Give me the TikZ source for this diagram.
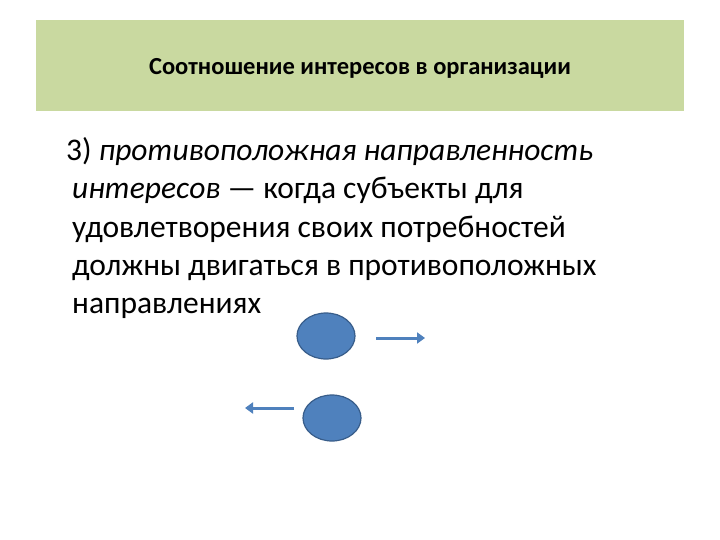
\documentclass[tikz,border=0pt]{standalone}
\usepackage{fontspec}
\setmainfont{Carlito}
\usetikzlibrary{arrows.meta,shapes.geometric}
\definecolor{hdr}{HTML}{C9D9A0}
\definecolor{ball}{HTML}{4F81BD}
\definecolor{balledge}{HTML}{385D8A}
\tikzset{
  ballnode/.style={ellipse,fill=ball,draw=balledge,line width=1.2pt,minimum width=58pt,minimum height=46pt,inner sep=0pt},
  arr/.style={draw=ball,line width=3pt,-{Triangle[length=8pt,width=11pt]}},
  bodyline/.style={anchor=base west,font=\fontsize{31.5}{36}\selectfont,inner sep=0pt}
}
\begin{document}
\begin{tikzpicture}[x=1pt,y=-1pt]
\useasboundingbox (0,0) rectangle (720,540);
\fill[white] (0,0) rectangle (720,540);
\node[fill=hdr,minimum width=648pt,minimum height=91pt,anchor=north west,inner sep=0pt] (hdr) at (36,20) {};
\node[font=\bfseries\fontsize{24.5}{28}\selectfont] (title) at (360,68) {Соотношение интересов в организации};
\node[bodyline] (l1) at (66,161) {3) \textit{противоположная направленность}};
\node[bodyline] (l2) at (72,199) {\textit{интересов} — когда субъекты для};
\node[bodyline] (l3) at (72,237) {удовлетворения своих потребностей};
\node[bodyline] (l4) at (72,275) {должны двигаться в противоположных};
\node[bodyline] (l5) at (72,313) {направлениях};
\node[ballnode] (b1) at (326,336) {};
\node[ballnode] (b2) at (332,418) {};
\coordinate (r1) at (376,338); \coordinate (r2) at (425,338);
\coordinate (s1) at (294,408); \coordinate (s2) at (245,408);
\draw[arr] (r1) -- (r2);
\draw[arr] (s1) -- (s2);
\end{tikzpicture}
\end{document}
